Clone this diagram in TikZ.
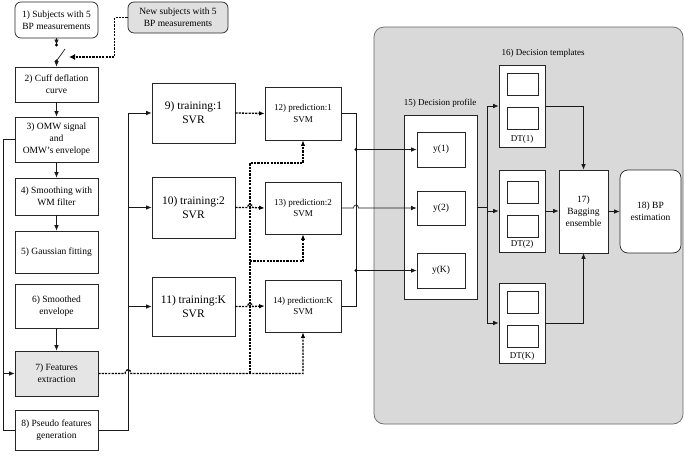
\documentclass[tikz,border=0pt]{standalone}
\usepackage{fontspec}
\setmainfont{Liberation Serif}
\usetikzlibrary{arrows.meta,calc}
\begin{document}
\begin{tikzpicture}[x=1pt,y=-1pt,
  >={Latex[length=5.5pt,width=4.5pt]},
  box/.style={draw=black!85, line width=0.7pt, fill=white, align=center, inner sep=1pt,
    font=\fontsize{9.5}{12}\selectfont},
  bx/.style 2 args={box, minimum width=#1pt, minimum height=#2pt},
  big/.style={font=\fontsize{11.5}{14}\selectfont},
  small/.style={font=\fontsize{9}{11.5}\selectfont},
  conn/.style={line width=0.7pt, black!90},
  dsh/.style={line width=1.3pt, dash pattern=on 2.2pt off 1.1pt, black},
  inner/.style={draw=black!85, line width=0.6pt, fill=white, minimum width=31pt, minimum height=22pt, inner sep=0pt},
  lbl/.style={font=\fontsize{9}{11}\selectfont, inner sep=0pt},
  dot/.style={fill=black}
]
\useasboundingbox (0,0) rectangle (685,458);

% panel
\draw[fill=black!15, draw=black!60, line width=0.7pt, rounded corners=10pt] (374,27) rectangle (683,424);

% left column
\node[bx={83}{36}, rounded corners=6pt] (b1) at (56.5,20) {1) Subjects with 5\\BP measurements};
\node[bx={100}{31}, rounded corners=6pt, fill=black!12] (bn) at (178,17.5) {New subjects with 5\\BP measurements};
\node[bx={83}{35}] (b2) at (56.5,84.5) {2) Cuff deflation\\curve};
\node[bx={83}{45}] (b3) at (56.5,139.5) {3) OMW signal\\and\\OMW's envelope};
\node[bx={83}{37}] (b4) at (56.5,196.5) {4) Smoothing with\\WM filter};
\node[bx={83}{42}] (b5) at (56.5,252) {5) Gaussian fitting};
\node[bx={83}{44}] (b6) at (56.5,306) {6) Smoothed\\envelope};
\node[bx={83}{45}, fill=black!10] (b7) at (56.5,373.5) {7) Features\\extraction};
\node[bx={83}{40}] (b8) at (56.5,430) {8) Pseudo features\\generation};

% training
\node[bx={83}{60}, big] (b9) at (193.5,113) {9) training:1\\SVR};
\node[bx={83}{61}, big] (b10) at (193.5,207.5) {10) training:2\\SVR};
\node[bx={83}{59}, big] (b11) at (193.5,306.5) {11) training:K\\SVR};

% prediction
\node[bx={76}{53}, small] (b12) at (303,113.5) {12) prediction:1\\SVM};
\node[bx={76}{52}, small] (b13) at (303,208) {13) prediction:2\\SVM};
\node[bx={76}{52}, small] (b14) at (303,306) {14) prediction:K\\SVM};

% decision profile
\node[lbl] (l15) at (440,103) {15) Decision profile};
\node[bx={73}{184}] (b15) at (440.5,207) {};
\node[bx={48}{35}] (y1) at (441,149.5) {y(1)};
\node[bx={48}{34}] (y2) at (441,208) {y(2)};
\node[bx={48}{35}] (yK) at (441,270.5) {y(K)};

% decision templates
\node[lbl] (l16) at (543,53) {16) Decision templates};
\node[bx={46}{82}] (dt1) at (522,106) {};
\node[inner] (dt1a) at (522.5,84) {};
\node[inner] (dt1b) at (522.5,118) {};
\node[lbl] (dt1l) at (522,139) {DT(1)};
\node[bx={46}{82}] (dt2) at (522,211) {};
\node[inner] (dt2a) at (522.5,192.5) {};
\node[inner] (dt2b) at (522.5,226) {};
\node[lbl] (dt2l) at (522,244) {DT(2)};
\node[bx={46}{80}] (dtK) at (522,323) {};
\node[inner] (dtKa) at (522.5,302.5) {};
\node[inner] (dtKb) at (522.5,336.5) {};
\node[lbl] (dtKl) at (522,356) {DT(K)};

\node[bx={49}{83}] (b17) at (583.5,211.5) {17)\\Bagging\\ensemble};
\node[bx={61}{83}, rounded corners=8pt] (b18) at (650.5,211.5) {18) BP\\estimation};

% helper coordinates
\coordinate (lx) at (3,0);
\coordinate (jx) at (128,0);
\coordinate (vx) at (250,0);
\coordinate (ox) at (356,0);
\coordinate (dx) at (487,0);
\coordinate (sa) at (56.5,45);
\coordinate (sb) at (56.5,61);
\coordinate (lev) at (65,49);
\coordinate (swin) at (69,57);

% switch
\draw[conn,->] (b1.south) -- (sa);
\fill[dot] (sa) circle (1.6);
\fill[dot] (sb) circle (1.6);
\draw[conn] (sb) -- (lev);
\draw[conn,->] (sb) -- (b2.north);
\draw[dsh,-{Latex[length=6pt,width=6pt]}] (bn.west) -- ++(-13,0) |- (swin);

% left chain
\draw[conn,->] (b2) -- (b3);
\draw[conn,->] (b3) -- (b4);
\draw[conn,->] (b4) -- (b5);
\draw[conn,->] (b6) -- (b7);

% left loop
\draw[conn] (b3.west) -| (lx |- b8.west) -- (b8.west);
\draw[conn,->] (lx |- b7.west) -- (b7.west);

% right loop into training
\draw[conn,->] (b8.east) -| (jx |- b9.west) -- (b9.west);
\draw[conn,->] (jx |- b10.west) -- (b10.west);
\draw[conn,->] (jx |- b11.west) -- (b11.west);

% dashed features
\draw[dsh,->] (b7.east) -- ($(b7.east -| jx)+(-3,0)$) .. controls +(0,-5) and +(0,-5) .. ($(b7.east -| jx)+(3,0)$) -- (b7.east -| b14.south) -- (b14.south);
\coordinate (v1) at (250,163);
\coordinate (v2) at (250,261);
\draw[dsh,->] (b7.east -| vx) -- (v1) -| (b12.south);
\draw[dsh,->] (v2) -| (b13.south);

% training -> prediction
\draw[dsh,->] (b9.east) -- (b12.west);
\draw[dsh,->] (b10.east) -- ($(b10.east -| vx)+(-2.5,0)$) .. controls +(0,-4) and +(0,-4) .. ($(b10.east -| vx)+(2.5,0)$) -- (b13.west);
\draw[dsh,->] (b11.east) -- ($(b11.east -| vx)+(-2.5,0)$) .. controls +(0,-4) and +(0,-4) .. ($(b11.east -| vx)+(2.5,0)$) -- (b14.west);

% prediction -> profile
\draw[conn] (b12.east) -| (ox |- b14.east) -- (b14.east);
\fill[dot] (ox |- y1.west) circle (1.6);
\fill[dot] (ox |- yK.west) circle (1.6);
\draw[conn,->] (ox |- y1.west) -- (y1.west);
\draw[conn,->] (ox |- yK.west) -- (yK.west);
\draw[conn,->] (b13.east) -- ($(b13.east -| ox)+(-2.5,0)$) .. controls +(0,-4) and +(0,-4) .. ($(b13.east -| ox)+(2.5,0)$) -- (y2.west);

% profile -> templates
\draw[conn] (b15.east) -- (dx |- b15.east);
\draw[conn,->] (dx |- dt1.west) -- (dx |- dtK.west) -- (dtK.west);
\draw[conn,->] (dx |- dt1.west) -- (dt1.west);
\draw[conn,->] (dx |- dt2.west) -- (dt2.west);

% templates -> bagging
\draw[conn,->] (dt1.east) -| (b17.north);
\draw[conn,->] (dt2.east) -- (b17.west |- dt2.east);
\draw[conn,->] (dtK.east) -| (b17.south);
\draw[conn,->] (b17.east) -- (b18.west);
\end{tikzpicture}
\end{document}
